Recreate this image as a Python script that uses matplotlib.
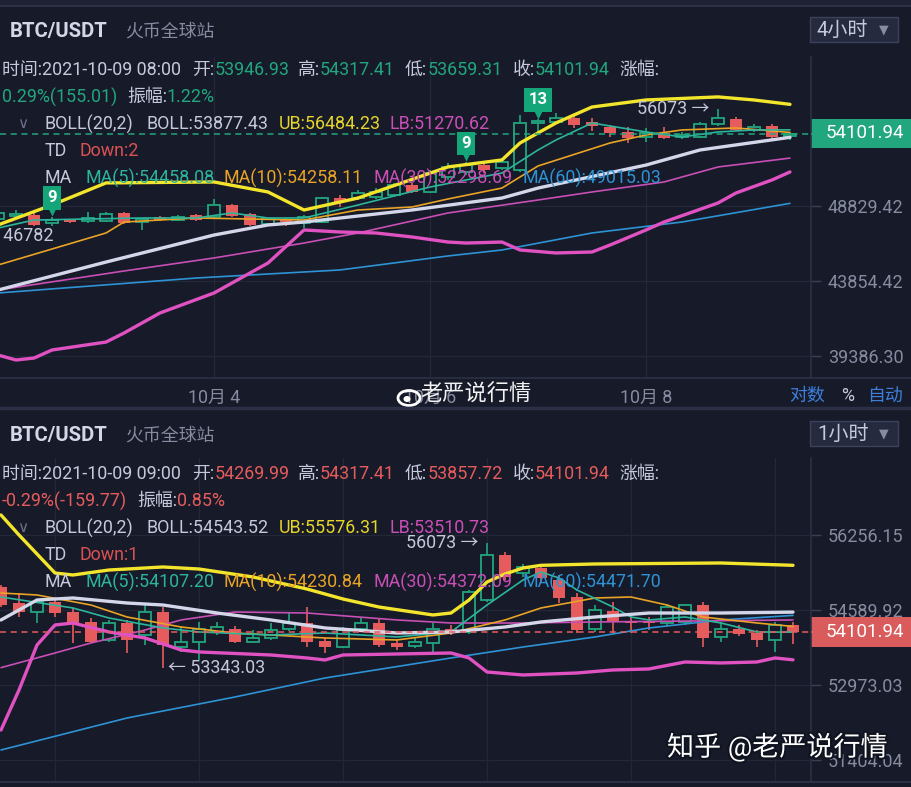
import numpy as np
import matplotlib.pyplot as plt
from matplotlib.patches import Rectangle, Ellipse
from matplotlib.ticker import NullLocator, NullFormatter
import matplotlib.patheffects as pe

plt.rcParams['font.family'] = ['Roboto', 'Noto Sans CJK SC', 'DejaVu Sans']

# ---------- 4小时 K线 (上图) ----------
h4_open = [47928, 48135, 48204, 47652, 47858, 47790, 47790, 48343, 47721, 48066,
           47858, 48204, 48066, 48899, 48273, 47584, 47928, 47652, 47721, 49394,
           49394, 49465, 49606, 50319, 49820, 50900, 51266, 51784, 51562, 51413,
           54997, 55076, 55393, 55076, 54684, 54295, 53907, 54218, 53907, 53907,
           54918, 55314, 54450, 54762, 53946.93]
h4_close = [48343, 48273, 47516, 47858, 47721, 47997, 48273, 47652, 47928, 47858,
            48066, 47858, 48899, 48135, 47516, 47928, 47721, 48066, 49394, 49110,
            49748, 49820, 50319, 49820, 51193, 51636, 51784, 51413, 52005, 54997,
            55150, 55393, 54840, 54762, 54218, 53830, 54218, 53830, 54060, 54918,
            55393, 54450, 54684, 53907, 54101.94]
h4_high = [48551, 48551, 48343, 48066, 47928, 48412, 48412, 48412, 47997, 48135,
           48204, 48273, 49323, 48970, 48343, 47997, 47997, 48204, 49465, 49606,
           49962, 50103, 50466, 50466, 51413, 51930, 52000, 52000, 52305, 55632,
           55314, 55791, 55552, 55393, 54840, 54684, 54606, 54684, 54295, 55076,
           56073, 55472, 54918, 54918, 54317.41]
h4_low = [47721, 47997, 47448, 47448, 47652, 47652, 47721, 47584, 47179, 47790,
          47790, 47790, 47997, 48066, 47448, 47516, 47448, 47312, 47652, 48759,
          49250, 49323, 49465, 49748, 49748, 50685, 51046, 51193, 51413, 51266,
          54218, 54918, 54606, 54372, 53907, 53443, 53520, 53750, 53750, 53830,
          54762, 54372, 54295, 53750, 53659.31]

h4_ub_x = [0, 3, 6, 12, 15, 17, 20, 25, 28, 29, 31, 33, 36, 40, 42, 44]
h4_ub = [47520, 48900, 50470, 50540, 49820, 48550, 49390, 51640, 52160, 53440,
         55000, 56270, 56840, 57090, 56840, 56484.23]
h4_mb_x = [0, 6, 12, 15, 17, 23, 28, 30, 36, 39, 44]
h4_mb = [43290, 45060, 46840, 47520, 47720, 48550, 49390, 50100, 51780, 52910, 53877.43]
h4_lb_x = [0, 1, 2, 3, 6, 7, 9, 12, 15, 17, 19, 21, 23, 25, 26, 28, 29, 31, 33, 34,
           36, 37, 40, 41, 43, 44]
h4_lb = [39440, 39160, 39270, 39725, 40180, 40705, 41890, 43106, 45000, 47179,
         47044, 46977, 46709, 46372, 46305, 46372, 45846, 45650, 45715, 46172,
         47179, 47721, 49040, 49748, 50685, 51270.62]
h4_ma5_x = [0, 2, 5, 8, 11, 13, 15, 17, 20, 24, 28, 30, 31, 33, 36, 38, 40, 42, 44]
h4_ma5 = [47312, 47858, 47928, 47997, 47997, 48343, 47997, 47997, 48899, 50175,
          51193, 52908, 53673, 54997, 54295, 53907, 54295, 54450, 54458.08]
h4_ma10_x = [0, 3, 6, 7, 11, 17, 20, 23, 25, 28, 30, 34, 36, 38, 41, 44]
h4_ma10 = [44870, 45911, 46977, 47721, 47997, 47858, 48551, 48759, 49323, 50103,
           51710, 53443, 54060, 54450, 54606, 54258.11]
h4_ma30_x = [0, 7, 12, 17, 20, 25, 30, 33, 37, 40, 44]
h4_ma30 = [43292, 44487, 45325, 46305, 46977, 48343, 49250, 49820, 50537, 51636, 52298.69]
h4_ma60_x = [0, 11, 19, 25, 28, 33, 38, 44]
h4_ma60 = [43106, 44040, 44552, 45455, 45846, 46977, 47721, 49015.03]

h4_yticks = [48829.42, 43854.42, 39386.30]
h4_xticks = [12, 24, 36]
h4_xlabels = ['10月 4', '10月 6', '10月 8']

# ---------- 1小时 K线 (下图) ----------
h1_open = [55095, 54743, 54546, 54765, 54546, 54328, 53938, 54306, 54046, 54546,
           53786, 53895, 54111, 54176, 53895, 53981, 54176, 54306, 53916, 53786,
           54176, 54306, 53873, 53808, 53873, 54176, 54111, 54809, 55807, 55405,
           55517, 55250, 54875, 54176, 54568, 54350, 54350, 54306, 54328, 54699,
           54003, 54176, 54089, 53938, 54269.99]
h1_close = [54699, 54546, 54765, 54524, 54306, 53895, 54306, 53938, 54546, 53829,
            53895, 54176, 54219, 53895, 53981, 54154, 54306, 53895, 53786, 54154,
            54306, 53829, 53786, 53895, 54176, 54089, 54985, 55807, 55317, 55539,
            55295, 54853, 54154, 54590, 54328, 54306, 54306, 54655, 54699, 53981,
            54176, 54068, 53938, 54263, 54101.94]
h1_high = [55140, 54963, 54809, 54853, 54634, 54415, 54372, 54372, 54743, 54655,
           54219, 54328, 54328, 54241, 54154, 54306, 54524, 54655, 53981, 54219,
           54415, 54415, 53938, 53981, 54306, 54263, 55029, 56073, 55874, 55606,
           55583, 55361, 54963, 54699, 54765, 54524, 54437, 54721, 54721, 54765,
           54328, 54263, 54154, 54328, 54317.41]
h1_low = [54655, 54437, 54306, 54437, 53873, 53873, 53895, 53657, 53829, 53343.03,
          53679, 53507, 54046, 53873, 53873, 53938, 54133, 53786, 53657, 53765,
          54133, 53786, 53722, 53765, 53679, 54046, 54068, 54765, 55250, 55317,
          55184, 54743, 54089, 54111, 54089, 54089, 54154, 54241, 54263, 53786,
          53895, 54024, 53786, 53679, 53857.72]

h1_ub_x = [0, 1, 3, 4, 6, 9, 11, 14, 17, 19, 21, 24, 25, 26, 27, 28, 29, 30, 33, 40, 44]
h1_ub = [56709, 56256, 55405, 55361, 55472, 55539, 55494, 55317, 55051, 54831,
         54655, 54481, 54524, 54809, 55206, 55383, 55517, 55576, 55606, 55628, 55576.31]
h1_mb_x = [0, 2, 4, 7, 9, 12, 15, 18, 22, 25, 28, 30, 33, 36, 40, 44]
h1_mb = [54372, 54809, 54853, 54743, 54699, 54524, 54372, 54198, 54089, 54111,
         54219, 54328, 54437, 54524, 54524, 54543.52]
h1_lb_x = [0, 1, 2, 3, 4, 6, 8, 10, 11, 15, 17, 18, 19, 25, 26, 27, 29, 32, 34, 36,
           38, 40, 42, 43, 44]
h1_lb = [52026, 52867, 53829, 54263, 54306, 54111, 53981, 53722, 53679, 53614,
         53550, 53507, 53614, 53657, 53550, 53250, 53186, 53229, 53293, 53315,
         53464, 53443, 53464, 53550, 53510.73]
h1_ma5_x = [0, 4, 6, 9, 11, 15, 18, 22, 25, 27, 29, 30, 31, 32, 34, 35, 36, 38, 40, 42, 44]
h1_ma5 = [54875, 54634, 54415, 54198, 54111, 54046, 54089, 54003, 54111, 54699,
          55250, 55428, 55295, 55029, 54655, 54437, 54372, 54437, 54306, 54111, 54107.20]
h1_ma10_x = [0, 2, 5, 7, 10, 13, 18, 22, 25, 28, 30, 33, 35, 37, 39, 42, 44]
h1_ma10 = [54963, 54919, 54699, 54437, 54219, 54089, 53981, 53938, 54089, 54372,
           54634, 54853, 54875, 54699, 54437, 54306, 54230.84]
h1_ma30_x = [0, 3, 5, 8, 10, 13, 17, 22, 25, 29, 33, 44]
h1_ma30 = [53343, 53657, 53873, 54154, 54372, 54546, 54524, 54372, 54306, 54306,
           54328, 54372.09]
h1_ma60_x = [0, 7, 13, 18, 25, 29, 33, 36, 40, 44]
h1_ma60 = [51611, 52277, 52719, 53122, 53550, 53786, 54003, 54198, 54372, 54471.70]

h1_yticks = [56256.15, 54589.92, 52973.03, 51404.04]
h1_grid_x = [3, 11, 19, 27, 35, 43]

last_price = 54101.94

# ---------- style ----------
W, H = 912, 787
BG = '#161a29'
TXT = '#c5c9db'
GRAY = '#868b9f'
GRID = '#232838'
GREEN = '#22a67e'
RED = '#e65c5c'
YEL = '#f3e52c'
MID = '#d4d6ea'
MAG = '#e052c2'
C_MA5 = '#2db59c'
C_MA10 = '#e9a325'
C_MA30 = '#c84fb4'
C_MA60 = '#2e93d4'
FS = 12.9

fig = plt.figure(figsize=(W / 100, H / 100), dpi=100, facecolor=BG)


def label(x, y, s, color=TXT, size=FS, **kw):
    return fig.text(x / W, 1 - y / H, s, color=color, fontsize=size, va='center', **kw)


def frect(x0, y0, x1, y1, **kw):
    fig.patches.append(Rectangle((x0 / W, 1 - y1 / H), (x1 - x0) / W, (y1 - y0) / H,
                                 transform=fig.transFigure, **kw))


def fline(x0, y0, x1, y1, **kw):
    fig.add_artist(plt.Line2D([x0 / W, x1 / W], [1 - y0 / H, 1 - y1 / H],
                              transform=fig.transFigure, **kw))


def panel(top, bottom, xlim, ylim, o, c, h, l, lines, yticks, grid_x):
    ax = fig.add_axes([0, 1 - bottom / H, 811 / W, (bottom - top) / H])
    ax.set_facecolor(BG)
    ax.set_yscale('log')
    ax.set_xlim(*xlim)
    ax.set_ylim(*ylim)
    for s in ax.spines.values():
        s.set_visible(False)
    ax.yaxis.tick_right()
    ax.set_yticks(yticks)
    ax.set_yticklabels([f'{v:.2f}' for v in yticks])
    ax.yaxis.set_minor_locator(NullLocator())
    ax.yaxis.set_minor_formatter(NullFormatter())
    ax.tick_params(axis='y', colors='#3a3f55', labelcolor=GRAY, length=7, width=1,
                   pad=5, labelsize=13)
    ax.grid(axis='y', color=GRID, lw=0.9)
    for gx in grid_x:
        ax.axvline(gx, color=GRID, lw=0.9, zorder=0)

    o, c, h, l = map(np.asarray, (o, c, h, l))
    for i in range(len(o)):
        lo, hi = min(o[i], c[i]), max(o[i], c[i])
        if c[i] >= o[i]:
            ax.vlines(i, l[i], lo, color=GREEN, lw=1.2, zorder=2)
            ax.vlines(i, hi, h[i], color=GREEN, lw=1.2, zorder=2)
            ax.bar(i, max(hi - lo, 8), bottom=lo, width=0.66, facecolor=BG,
                   edgecolor=GREEN, lw=1.3, zorder=2)
        else:
            ax.vlines(i, l[i], h[i], color=RED, lw=1.2, zorder=2)
            ax.bar(i, max(hi - lo, 8), bottom=lo, width=0.70, color=RED, lw=0, zorder=2)

    for xs, ys, col, lw in lines:
        ax.plot(xs, ys, color=col, lw=lw, solid_capstyle='round',
                solid_joinstyle='round', zorder=3)
    return ax


def boll_ma_lines(ub_x, ub, mb_x, mb, lb_x, lb, m5x, m5, m10x, m10, m30x, m30, m60x, m60):
    return [(m60x, m60, C_MA60, 1.2), (m30x, m30, C_MA30, 1.2),
            (m10x, m10, C_MA10, 1.2), (m5x, m5, C_MA5, 1.2),
            (mb_x, mb, MID, 2.4), (lb_x, lb, MAG, 2.4), (ub_x, ub, YEL, 2.4)]


# ----- 上图 -----
ax1 = panel(57, 378, (0.111, 45.167), (38163, 60450),
            h4_open, h4_close, h4_high, h4_low,
            boll_ma_lines(h4_ub_x, h4_ub, h4_mb_x, h4_mb, h4_lb_x, h4_lb,
                          h4_ma5_x, h4_ma5, h4_ma10_x, h4_ma10,
                          h4_ma30_x, h4_ma30, h4_ma60_x, h4_ma60),
            h4_yticks, h4_xticks)
ax1.set_xticks(h4_xticks)
ax1.set_xticklabels(h4_xlabels)
ax1.tick_params(axis='x', length=0, pad=8, labelsize=FS, labelcolor=GRAY)
ax1.axhline(last_price, color=GREEN, lw=1.1, ls=(0, (4, 3)), zorder=4)
ax1.text(39.5, 56073, '56073 →', color=TXT, fontsize=FS, ha='right', va='center', zorder=5)
ax1.text(3.06, 46782, '← 46782', color=TXT, fontsize=FS, ha='right', va='center',
         zorder=5, clip_on=True)
for tx, ty, tip, s in [(3, 49394, 48560, '9'), (26, 53400, 52540, '9'), (30, 56838, 55800, '13')]:
    ax1.plot(tx, tip, marker='v', ms=8, color='#14a679', mec='none', zorder=6)
    ax1.text(tx, ty, s, color='white', fontsize=12, fontweight='bold', ha='center',
             va='center', zorder=7,
             bbox=dict(boxstyle='square,pad=0.25', fc='#14a679', ec='none'))

# ----- 下图 -----
ax2 = panel(458, 782, (-0.056, 45.0), (50953, 58019),
            h1_open, h1_close, h1_high, h1_low,
            boll_ma_lines(h1_ub_x, h1_ub, h1_mb_x, h1_mb, h1_lb_x, h1_lb,
                          h1_ma5_x, h1_ma5, h1_ma10_x, h1_ma10,
                          h1_ma30_x, h1_ma30, h1_ma60_x, h1_ma60),
            h1_yticks, h1_grid_x)
ax2.set_xticks([])
ax2.axhline(last_price, color=RED, lw=1.1, ls=(0, (4, 3)), zorder=4)
ax2.text(26.5, 56073, '56073 →', color=TXT, fontsize=FS, ha='right', va='center', zorder=5)
ax2.text(9.25, 53343.03, '← 53343.03', color=TXT, fontsize=FS, ha='left', va='center', zorder=5)

# ----- frame lines -----
frect(0, 0, W, 5, color='#1d2133', lw=0)
fline(0, 6, W, 6, color='#2b3046', lw=1.5)
fline(0, 408, W, 408, color='#2b3046', lw=2.5)
fline(0, 378, W, 378, color='#2b3046', lw=1.2)
fline(0, 782, W, 782, color='#2b3046', lw=1.5)
fline(811, 57, 811, 378, color='#2b3046', lw=1.2)
fline(811, 458, 811, 782, color='#2b3046', lw=1.2)

# current price boxes
for y0, y1, col in [(119, 148, GREEN), (617, 647, '#d95b5b')]:
    fline(812, (y0 + y1) / 2, 819, (y0 + y1) / 2, color=col, lw=1.2)
    frect(811, y0, W, y1, color=col, lw=0)
    label(826, (y0 + y1) / 2, f'{last_price:.2f}', color='white', size=13.5)


# ----- headers -----
def header(y0, tf, time_s, ohlc, chg, amp_x, amp, vcol, boll, td, ma):
    label(10, y0, 'BTC/USDT', color='#d4d7e8', size=14.6, fontweight='bold')
    label(125, y0, '火币全球站', color=GRAY, size=FS)
    frect(810, y0 - 15, 898, y0 + 10, facecolor='#252a3e', edgecolor='#3c425c', lw=1)
    label(817, y0 - 2, tf, color=TXT, size=14.5)
    label(879, y0 - 2, '▼', color=GRAY, size=9, family='DejaVu Sans')
    r = y0 + 38
    label(2, r, '时间:' + time_s)
    for lx, vx, name, val in zip([192, 298, 405, 513], [215, 320, 428, 535],
                                 ['开:', '高:', '低:', '收:'], ohlc):
        label(lx, r, name)
        label(vx, r, val, color=vcol)
    label(619, r, '涨幅:')
    r = y0 + 65
    label(2, r, chg, color=vcol)
    label(amp_x, r, '振幅:')
    label(amp_x + 40, r, amp, color=vcol)
    r = y0 + 92
    label(17, r, '∨', color='#6b7088', size=11, family='DejaVu Sans')
    label(45, r, 'BOLL(20,2)')
    label(147, r, 'BOLL:' + boll[0])
    label(279, r, 'UB:' + boll[1], color='#e6d52b')
    label(390, r, 'LB:' + boll[2], color='#cc4fb8')
    r = y0 + 119
    label(45, r, 'TD')
    label(80, r, 'Down:' + td, color='#dc5252')
    r = y0 + 146
    label(45, r, 'MA')
    for x, s, col in zip([86, 224, 374, 523], ma, [C_MA5, C_MA10, C_MA30, C_MA60]):
        label(x, r, s, color=col)


header(32, '4小时', '2021-10-09 08:00', ['53946.93', '54317.41', '53659.31', '54101.94'],
       '0.29%(155.01)', 127, '1.22%', GREEN, ['53877.43', '56484.23', '51270.62'], '2',
       ['MA(5):54458.08', 'MA(10):54258.11', 'MA(30):52298.69', 'MA(60):49015.03'])
header(436, '1小时', '2021-10-09 09:00', ['54269.99', '54317.41', '53857.72', '54101.94'],
       '-0.29%(-159.77)', 137, '0.85%', RED, ['54543.52', '55576.31', '53510.73'], '1',
       ['MA(5):54107.20', 'MA(10):54230.84', 'MA(30):54372.09', 'MA(60):54471.70'])

# 对数 % 自动
label(789, 396, '对数', color='#3f7fdc', size=FS)
label(841, 396, '%', color=TXT, size=FS)
label(867, 396, '自动', color='#3f7fdc', size=FS)

# ----- watermarks -----
fig.patches.append(Ellipse((409 / W, 1 - 398 / H), 22 / W, 15 / H, transform=fig.transFigure,
                           fill=False, ec='white', lw=2))
fig.patches.append(Ellipse((407 / W, 1 - 399 / H), 7 / W, 6 / H, transform=fig.transFigure,
                           fc='white', ec='none'))
label(420, 395, '老严说行情', color='#f2f2f2', size=16)
label(667, 747, '知乎 @老严说行情', color='white', size=19.5,
      path_effects=[pe.withStroke(linewidth=3, foreground='#101320')])

fig.savefig('out.png', dpi=100, facecolor=BG)
